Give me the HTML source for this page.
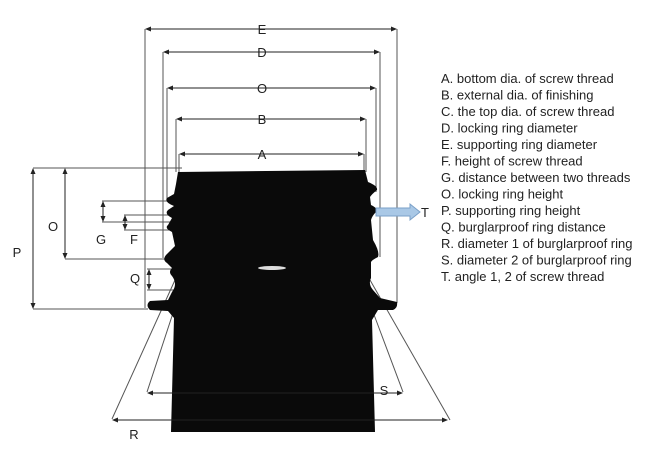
<!DOCTYPE html>
<html><head><meta charset="utf-8"><style>
html,body{margin:0;padding:0;background:#fff;}
svg{display:block;}
text{font-family:"Liberation Sans",Arial,sans-serif;}
</style></head><body>
<svg width="650" height="450" viewBox="0 0 650 450" xmlns="http://www.w3.org/2000/svg">
<defs>
<marker id="ar" markerWidth="6" markerHeight="6" refX="5" refY="3" orient="auto-start-reverse" markerUnits="userSpaceOnUse">
<path d="M0,0.5 L6,3 L0,5.5 z" fill="#222"/></marker>
</defs>
<g stroke="#555" stroke-width="1" fill="none">
<line x1="145" y1="29" x2="145" y2="308"/>
<line x1="397" y1="29" x2="397" y2="303"/>
<line x1="163" y1="52" x2="163" y2="258"/>
<line x1="380" y1="52" x2="380" y2="257"/>
<line x1="167" y1="88" x2="167" y2="200"/>
<line x1="376" y1="88" x2="376" y2="192"/>
<line x1="176" y1="119" x2="176" y2="172"/>
<line x1="366" y1="119" x2="366" y2="172"/>
<line x1="179" y1="154" x2="179" y2="172"/>
<line x1="364" y1="154" x2="364" y2="172"/>
<line x1="33" y1="168" x2="182" y2="168"/>
<line x1="33" y1="309" x2="148" y2="309"/>
<line x1="65" y1="259" x2="170" y2="259"/>
<line x1="102" y1="201" x2="172" y2="201"/>
<line x1="102" y1="222" x2="172" y2="222"/>
<line x1="124" y1="215" x2="172" y2="215"/>
<line x1="124" y1="230" x2="172" y2="230"/>
<line x1="147" y1="269" x2="175" y2="269"/>
<line x1="147" y1="290" x2="175" y2="290"/>
<line x1="112" y1="419" x2="175" y2="280"/>
<line x1="147" y1="392" x2="174" y2="310"/>
<line x1="403" y1="392" x2="373" y2="312"/>
<line x1="450" y1="420" x2="370" y2="280"/>
</g>
<path fill="#0a0a0a" d="M178,172 L365,170 L368,182 Q378,186 377,190 Q372,194 370,197 L371,205 Q378,208 376,212 Q372,216 371,220 L373,240 Q380,252 378,257 Q372,260 371,262 L371,278 Q368,284 373,290 L380,298 L397,302 Q398,308 393,310 L378,310 L372,320 L375,432 L171,432 L174,318 L168,311 L150,310 Q145,305 150,301 L168,300 L172,292 Q178,284 172,276 Q168,272 172,268 L167,263 Q162,260 166,255 L175,246 L172,232 Q164,228 168,225 L172,218 Q164,214 168,210 L174,206 Q164,202 167,198 L174,194 L176,184 Z"/>
<ellipse cx="272" cy="268" rx="14" ry="2" fill="#ddd"/>
<g stroke="#222" stroke-width="1" marker-start="url(#ar)" marker-end="url(#ar)">
<line x1="146" y1="29" x2="396" y2="29"/>
<line x1="164" y1="52" x2="379" y2="52"/>
<line x1="168" y1="88" x2="375" y2="88"/>
<line x1="177" y1="119" x2="365" y2="119"/>
<line x1="180" y1="154" x2="363" y2="154"/>
<line x1="33" y1="169" x2="33" y2="308"/>
<line x1="65" y1="169" x2="65" y2="258"/>
<line x1="103" y1="202" x2="103" y2="221"/>
<line x1="125" y1="216" x2="125" y2="229"/>
<line x1="149" y1="270" x2="149" y2="289"/>
<line x1="148" y1="393" x2="402" y2="393"/>
<line x1="113" y1="420" x2="447" y2="420"/>
</g>
<path d="M376,208 L410,208 L410,204 L420,212 L410,220 L410,216 L376,216 Z" fill="#a9c8e6" stroke="#7aa0c8" stroke-width="1"/>
<g font-size="13" fill="#222" text-anchor="middle">
<text x="262" y="34">E</text>
<text x="262" y="57">D</text>
<text x="262" y="93">O</text>
<text x="262" y="124">B</text>
<text x="262" y="159">A</text>
<text x="17" y="257">P</text>
<text x="53" y="231">O</text>
<text x="101" y="244">G</text>
<text x="134" y="244">F</text>
<text x="135" y="283">Q</text>
<text x="384" y="395">S</text>
<text x="134" y="439">R</text>
<text x="425" y="217">T</text>
</g>
<g font-size="13" fill="#222">
<text x="441" y="83">A. bottom dia. of screw thread</text>
<text x="441" y="99.5">B. external dia. of finishing</text>
<text x="441" y="116">C. the top dia. of screw thread</text>
<text x="441" y="132.5">D. locking ring diameter</text>
<text x="441" y="149">E. supporting ring diameter</text>
<text x="441" y="165.5">F. height of screw thread</text>
<text x="441" y="182">G. distance between two threads</text>
<text x="441" y="198.5">O. locking ring height</text>
<text x="441" y="215">P. supporting ring height</text>
<text x="441" y="231.5">Q. burglarproof ring distance</text>
<text x="441" y="248">R. diameter 1 of burglarproof ring</text>
<text x="441" y="264.5">S. diameter 2 of burglarproof ring</text>
<text x="441" y="281">T. angle 1, 2 of screw thread</text>
</g>
</svg>
</body></html>
